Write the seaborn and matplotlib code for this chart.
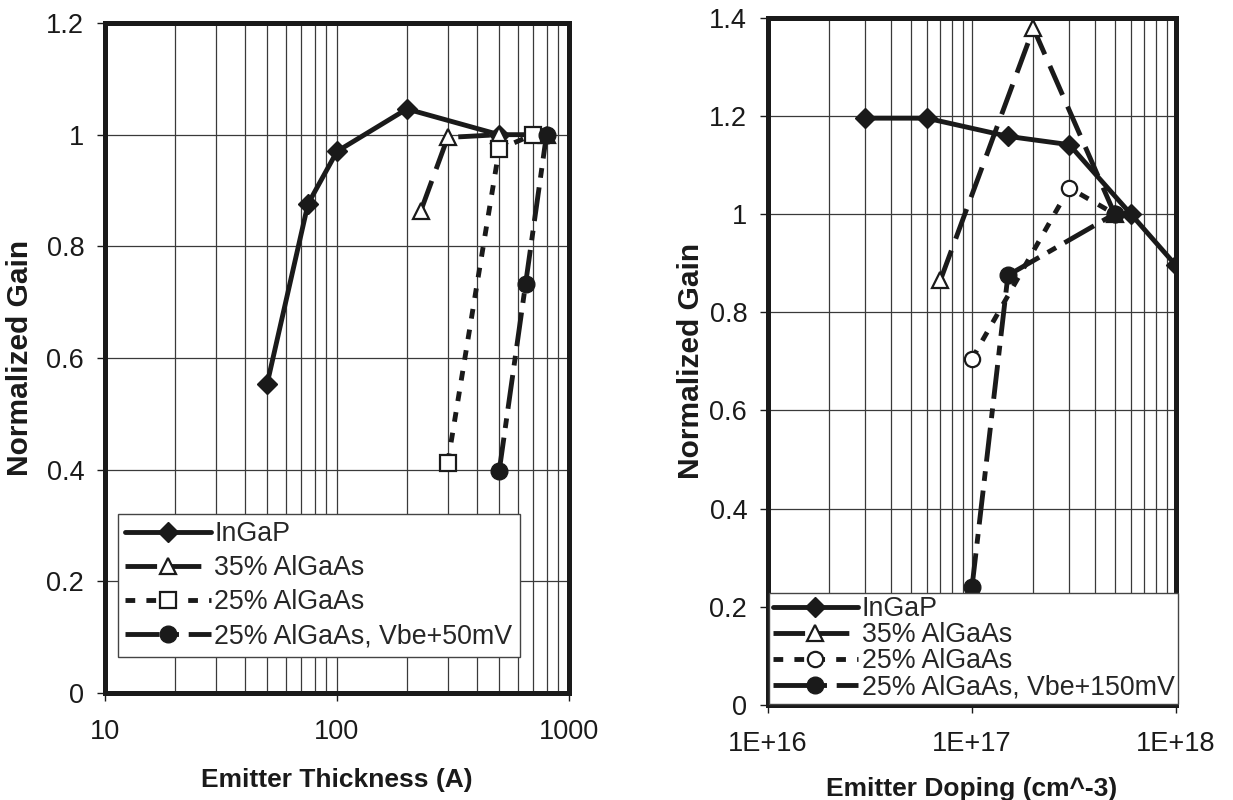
import matplotlib
matplotlib.use("Agg")
import matplotlib.pyplot as plt
import seaborn as sns
import pandas as pd
from matplotlib.ticker import FixedLocator, LogLocator, NullFormatter, FixedFormatter

# ---------------- data ----------------
thick_labels = ["InGaP", "35% AlGaAs", "25% AlGaAs", "25% AlGaAs, Vbe+50mV"]
thick_ingap_x = [50, 75, 100, 200, 500]
thick_ingap_y = [0.554, 0.876, 0.970, 1.046, 1.0]
thick_al35_x = [230, 300, 500, 800]
thick_al35_y = [0.864, 0.995, 1.0, 1.0]
thick_al25_x = [300, 500, 700]
thick_al25_y = [0.412, 0.974, 1.0]
thick_vbe_x = [500, 650, 800]
thick_vbe_y = [0.397, 0.733, 1.0]

dop_labels = ["InGaP", "35% AlGaAs", "25% AlGaAs", "25% AlGaAs, Vbe+150mV"]
dop_ingap_x = [3e16, 6e16, 1.5e17, 3e17, 6e17, 1e18]
dop_ingap_y = [1.195, 1.195, 1.158, 1.141, 1.0, 0.895]
dop_al35_x = [7e16, 2e17, 5e17]
dop_al35_y = [0.865, 1.378, 1.0]
dop_al25_x = [1e17, 3e17, 5e17]
dop_al25_y = [0.705, 1.053, 1.0]
dop_vbe_x = [1e17, 1.5e17, 5e17]
dop_vbe_y = [0.24, 0.875, 1.0]

left_yticks = [0, 0.2, 0.4, 0.6, 0.8, 1.0, 1.2]
left_yticklabels = ["0", "0.2", "0.4", "0.6", "0.8", "1", "1.2"]
left_xticks = [10, 100, 1000]
left_xticklabels = ["10", "100", "1000"]
right_yticks = [0, 0.2, 0.4, 0.6, 0.8, 1.0, 1.2, 1.4]
right_yticklabels = ["0", "0.2", "0.4", "0.6", "0.8", "1", "1.2", "1.4"]
right_xticks = [1e16, 1e17, 1e18]
right_xticklabels = ["1E+16", "1E+17", "1E+18"]

# ---------------- style ----------------
sns.set_theme(style="white")
plt.rcParams['font.family'] = ['Liberation Sans', 'DejaVu Sans']

LW = 3.5
TICK_FS = 19.5
LEG_FS = 19.3

def styles(open_marker):
    return [
        dict(marker='D', ms=10.5, mfc='k', mec='k', mew=1, linestyle='-'),
        dict(marker='^', ms=11, mfc='white', mec='k', mew=1.6, linestyle=(0, (6.5, 2.6))),
        dict(marker=open_marker, ms=11, mfc='white', mec='k', mew=1.6, linestyle=(0, (2.0, 2.3))),
        dict(marker='o', ms=12, mfc='k', mec='k', mew=1, linestyle=(0, (7, 2, 2, 2))),
    ]

fig = plt.figure(figsize=(12.33, 8), dpi=100)
axL = fig.add_axes([105/1233, 1-693/800, (569-105)/1233, (693-23)/800])
axR = fig.add_axes([768/1233, 1-705/800, (1176-768)/1233, (705-17.5)/800])

def draw(ax, series, labels, open_marker):
    ax.set_xscale('log')
    for (x, y), lab, st in zip(series, labels, styles(open_marker)):
        df = pd.DataFrame({'x': x, 'y': y})
        sns.lineplot(data=df, x='x', y='y', ax=ax, color='k', lw=LW,
                     estimator=None, sort=False, label=lab, **st)
    ax.legend().remove()
    return ax.get_lines()

def style_axes(ax, xlim, ylim, xticks, xlabels, yticks, ylabels):
    ax.set_xlim(*xlim)
    ax.set_ylim(*ylim)
    ax.xaxis.set_major_locator(FixedLocator(xticks))
    ax.xaxis.set_major_formatter(FixedFormatter(xlabels))
    ax.xaxis.set_minor_locator(LogLocator(base=10, subs=range(2, 10)))
    ax.xaxis.set_minor_formatter(NullFormatter())
    ax.yaxis.set_major_locator(FixedLocator(yticks))
    ax.yaxis.set_major_formatter(FixedFormatter(ylabels))
    ax.set_axisbelow(True)
    ax.grid(True, which='both', axis='x', color='#3a3a3a', lw=0.9)
    ax.grid(True, which='major', axis='y', color='#3a3a3a', lw=0.9)
    for sp in ax.spines.values():
        sp.set_visible(True)
        sp.set_color('k')
        sp.set_linewidth(3.6)
        sp.set_zorder(5)
    ax.tick_params(which='major', bottom=True, left=True, direction='out',
                   length=6, width=1, color='k', labelsize=TICK_FS, labelcolor='k')
    ax.tick_params(axis='x', which='major', pad=13)
    ax.tick_params(axis='y', which='major', pad=9)
    ax.tick_params(which='minor', length=0)
    ax.set_facecolor('white')

linesL = draw(axL, [(thick_ingap_x, thick_ingap_y), (thick_al35_x, thick_al35_y),
                    (thick_al25_x, thick_al25_y), (thick_vbe_x, thick_vbe_y)],
              thick_labels, 's')
style_axes(axL, (10, 1000), (0, 1.2), left_xticks, left_xticklabels,
           left_yticks, left_yticklabels)
axL.set_xlabel("Emitter Thickness (A)", fontsize=19, fontweight='bold', color='k')
axL.set_ylabel("Normalized Gain", fontsize=21.5, fontweight='bold', color='k')
axL.xaxis.set_label_coords(0.5, -0.112)
axL.yaxis.set_label_coords(-0.152, 0.5)
legL = axL.legend(linesL, thick_labels, loc='lower left', bbox_to_anchor=(0.028, 0.054),
                  borderaxespad=0, fontsize=LEG_FS, handlelength=3.2, handletextpad=0.12,
                  labelspacing=0.3, borderpad=0.28, fancybox=False, framealpha=1,
                  edgecolor='#444')
legL.get_frame().set_linewidth(1.0)
legL.set_zorder(6)

linesR = draw(axR, [(dop_ingap_x, dop_ingap_y), (dop_al35_x, dop_al35_y),
                    (dop_al25_x, dop_al25_y), (dop_vbe_x, dop_vbe_y)],
              dop_labels, 'o')
style_axes(axR, (1e16, 1e18), (0, 1.4), right_xticks, right_xticklabels,
           right_yticks, right_yticklabels)
axR.set_xlabel("Emitter Doping (cm^-3)", fontsize=19, fontweight='bold', color='k')
axR.set_ylabel("Normalized Gain", fontsize=21.5, fontweight='bold', color='k')
axR.xaxis.set_label_coords(0.5, -0.105)
axR.yaxis.set_label_coords(-0.155, 0.5)
legR = axR.legend(linesR, dop_labels, loc='lower left', bbox_to_anchor=(0.0, 0.0),
                  borderaxespad=0.05, fontsize=LEG_FS, handlelength=3.2, handletextpad=0.12,
                  labelspacing=0.0, borderpad=0.12, fancybox=False, framealpha=1,
                  edgecolor='#444')
legR.get_frame().set_linewidth(1.0)
legR.set_zorder(6)

fig.savefig("out.png", dpi=100, facecolor='white')
